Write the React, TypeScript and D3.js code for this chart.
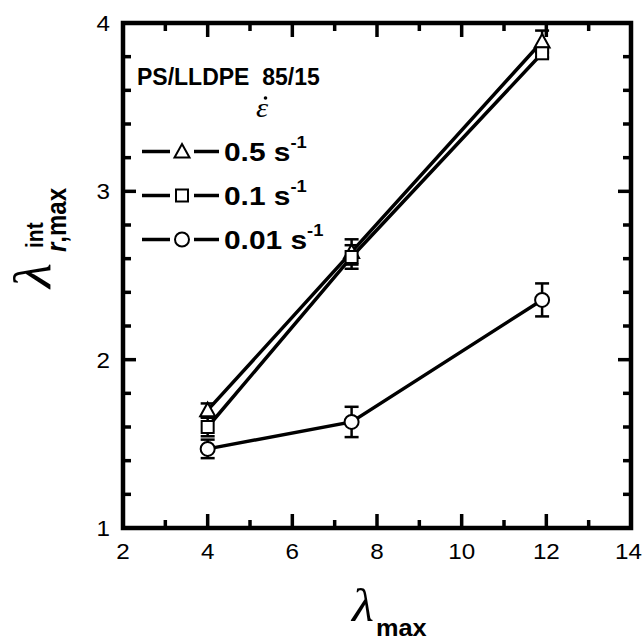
import React from "react";
import * as d3 from "d3";

const xTicks = [2, 4, 6, 8, 10, 12, 14];
const yTicks = [1, 2, 3, 4];
const xVals = [4, 7.4, 11.9];
const seriesNames = ["0.5", "0.1", "0.01"];
const seriesShapes = ["triangle", "square", "circle"];
const y05 = [1.70, 2.64, 3.89];
const e05 = [0.04, 0.075, 0.065];
const y01 = [1.60, 2.61, 3.82];
const e01 = [0.055, 0.07, 0.025];
const y001 = [1.47, 1.63, 2.355];
const e001 = [0.055, 0.09, 0.098];
const titleText = "PS/LLDPE\u00a0\u00a085/15";

const W = 643, H = 641;
const x = d3.scaleLinear().domain([2, 14]).range([123, 631]);
const y = d3.scaleLinear().domain([1, 4]).range([528, 23]);
const SANS = "'Liberation Sans', Arial, Helvetica, sans-serif";
const SERIF = "'Liberation Serif', 'Times New Roman', serif";
const SX = 1.1;

function Marker({ shape, cx, cy }: { shape: string; cx: number; cy: number }) {
  if (shape === "circle") return <circle cx={cx} cy={cy} r={7} fill="white" stroke="black" strokeWidth={2} />;
  if (shape === "square") return <rect x={cx - 6} y={cy - 6} width={12} height={12} fill="white" stroke="black" strokeWidth={2} />;
  const s = 7.5;
  return <path d={`M${cx},${cy - s}L${cx + s},${cy + s * 0.8}L${cx - s},${cy + s * 0.8}Z`} fill="white" stroke="black" strokeWidth={2} strokeLinejoin="miter" />;
}

function T(props: any) {
  const { x: tx, y: ty, sx = SX, children, ...rest } = props;
  return (
    <text transform={`translate(${tx},${ty}) scale(${sx},1)`} {...rest}>
      {children}
    </text>
  );
}

export default function App() {
  const series = [
    { name: seriesNames[0], shape: seriesShapes[0], ys: y05, es: e05 },
    { name: seriesNames[1], shape: seriesShapes[1], ys: y01, es: e01 },
    { name: seriesNames[2], shape: seriesShapes[2], ys: y001, es: e001 },
  ];
  const line = d3.line<[number, number]>().x((d) => x(d[0])).y((d) => y(d[1]));
  const xMinor = d3.range(3, 14, 2);
  const yMinor = d3.range(1.2, 4, 0.2).filter((v) => Math.abs(v - Math.round(v)) > 0.01);
  const x0 = x(2), x1 = x(14), yb = y(1), yt = y(4);
  const legendRows = [161, 205, 249];
  const tickFs = 22;

  return (
    <svg width={W} height={H} style={{ position: "absolute", left: 0, top: 0, background: "white" }} fontFamily={SANS}>
      {/* lines */}
      {series.map((s, i) => (
        <path key={"l" + i} d={line(xVals.map((xv, j) => [xv, s.ys[j]]) as [number, number][]) || ""} fill="none" stroke="black" strokeWidth={3.5} />
      ))}
      {/* error bars */}
      {series.map((s, i) =>
        xVals.map((xv, j) => {
          const cx = x(xv), top = y(s.ys[j] + s.es[j]), bot = y(s.ys[j] - s.es[j]);
          return (
            <g key={"e" + i + "-" + j} stroke="black" strokeWidth={2.5}>
              <line x1={cx} x2={cx} y1={top} y2={bot} />
              <line x1={cx - 7} x2={cx + 7} y1={top} y2={top} />
              <line x1={cx - 7} x2={cx + 7} y1={bot} y2={bot} />
            </g>
          );
        })
      )}
      {/* markers */}
      {series.map((s, i) => xVals.map((xv, j) => <Marker key={"m" + i + "-" + j} shape={s.shape} cx={x(xv)} cy={y(s.ys[j])} />))}

      {/* ticks */}
      <g stroke="black" strokeWidth={3.5}>
        {xTicks.map((t) => (
          <g key={"xt" + t}>
            <line x1={x(t)} x2={x(t)} y1={yb} y2={yb - 14} />
            <line x1={x(t)} x2={x(t)} y1={yt} y2={yt + 14} />
          </g>
        ))}
        {xMinor.map((t) => (
          <g key={"xm" + t}>
            <line x1={x(t)} x2={x(t)} y1={yb} y2={yb - 8} />
            <line x1={x(t)} x2={x(t)} y1={yt} y2={yt + 8} />
          </g>
        ))}
        {yTicks.map((t) => (
          <g key={"yt" + t}>
            <line x1={x0} x2={x0 + 13} y1={y(t)} y2={y(t)} />
            <line x1={x1} x2={x1 - 13} y1={y(t)} y2={y(t)} />
          </g>
        ))}
        {yMinor.map((t) => (
          <g key={"ym" + t}>
            <line x1={x0} x2={x0 + 8} y1={y(t)} y2={y(t)} />
            <line x1={x1} x2={x1 - 8} y1={y(t)} y2={y(t)} />
          </g>
        ))}
      </g>
      <rect x={x0} y={yt} width={x1 - x0} height={yb - yt} fill="none" stroke="black" strokeWidth={4.5} />

      {/* tick labels */}
      {xTicks.map((t) => {
        const half = (String(t).length * 0.556 * tickFs * SX) / 2;
        const cx = Math.min(x(t), W - 1 - half);
        return (
          <T key={"xl" + t} x={cx} y={559} textAnchor="middle" fontSize={tickFs}>{t}</T>
        );
      })}
      {yTicks.map((t) => (
        <T key={"yl" + t} x={110} y={y(t) + 8} textAnchor="end" fontSize={tickFs}>{t}</T>
      ))}

      {/* axis titles */}
      <T x={352} y={621} fontFamily={SERIF} fontStyle="italic" fontSize={46}>λ</T>
      <T x={376} y={636} fontWeight="bold" fontSize={23}>max</T>
      <g transform="translate(50,288) rotate(-90) scale(1,1.13)">
        <text transform="scale(1.25,1)" x={0} y={0} fontFamily={SERIF} fontStyle="italic" fontSize={46}>λ</text>
        <text x={40} y={-6} fontWeight="bold" fontSize={21}>int</text>
        <text x={36} y={14} fontWeight="bold" fontSize={24}>
          <tspan fontStyle="italic">r</tspan>,max
        </text>
      </g>

      {/* legend */}
      <T x={137} y={85} fontWeight="bold" fontSize={23} sx={1.0}>{titleText}</T>
      <T x={256} y={117} fontFamily={SERIF} fontStyle="italic" fontSize={28}>ε</T>
      <circle cx={265.5} cy={98} r={1.8} fill="black" />
      {series.map((s, i) => {
        const by = legendRows[i];
        const ly = by - 9.5;
        return (
          <g key={"lg" + i}>
            <line x1={142} x2={170} y1={ly} y2={ly} stroke="black" strokeWidth={3.5} />
            <line x1={194} x2={219} y1={ly} y2={ly} stroke="black" strokeWidth={3.5} />
            <Marker shape={s.shape} cx={182} cy={ly} />
            <T x={224} y={by} fontWeight="bold" fontSize={26} sx={1.15}>
              {s.name} s<tspan dy={-13} fontSize={16}>-1</tspan>
            </T>
          </g>
        );
      })}
    </svg>
  );
}
